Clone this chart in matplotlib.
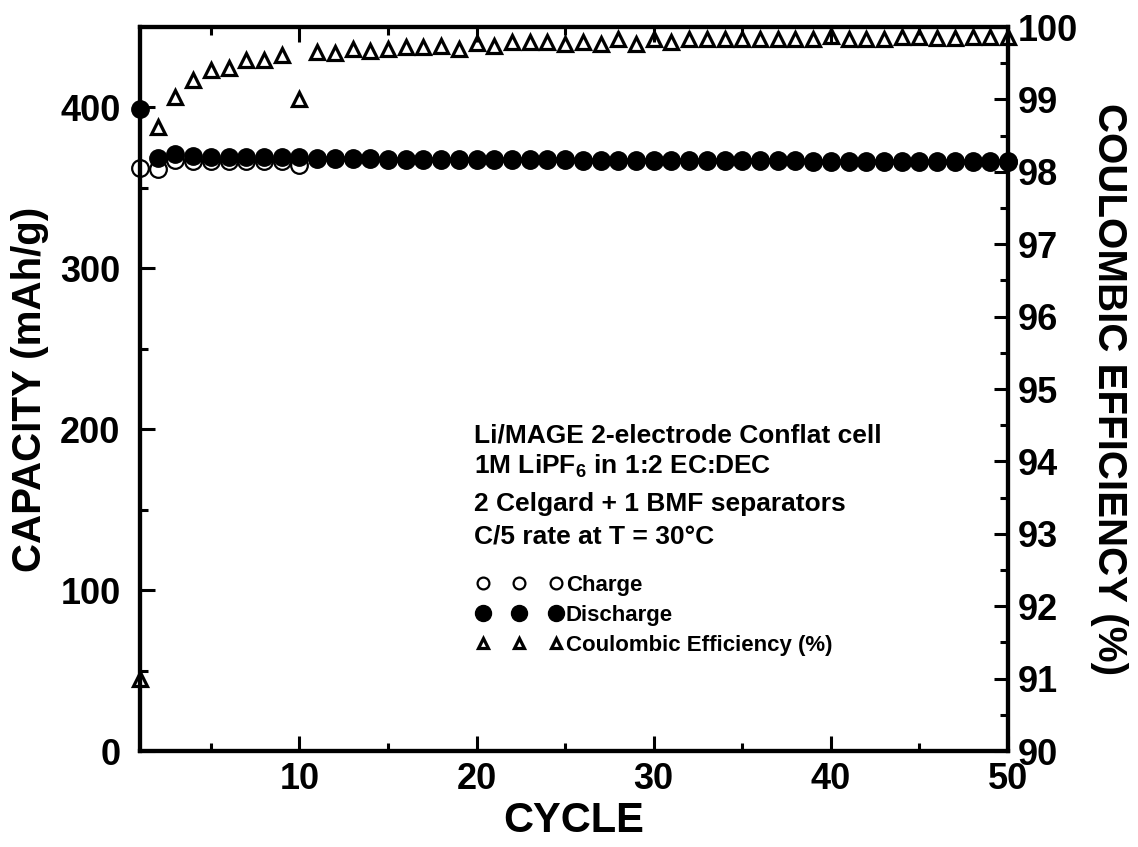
import matplotlib
matplotlib.use("Agg")
import matplotlib.pyplot as plt
from matplotlib.legend_handler import HandlerLine2D

plt.rcParams['font.family'] = ['Liberation Sans', 'DejaVu Sans']
plt.rcParams['font.weight'] = 'bold'
plt.rcParams['mathtext.default'] = 'regular'

cycles = list(range(1, 51))

discharge = [399, 368.5, 371, 370, 369.5, 369.5, 369.5, 369.5, 369, 369,
             368.5, 368.5, 368.3, 368.3, 368.2, 368.2, 368, 368, 368, 368,
             367.8, 367.8, 367.8, 367.7, 367.7, 367.6, 367.6, 367.5, 367.5, 367.5,
             367.4, 367.4, 367.3, 367.3, 367.2, 367.2, 367.1, 367.1, 367, 367,
             367, 366.9, 366.9, 366.8, 366.8, 366.7, 366.7, 366.6, 366.6, 366.5]

charge = [362.5, 362, 367.5, 367, 367, 367, 367, 367, 367, 364,
          367.9, 367.9, 367.7, 367.7, 367.6, 367.6, 367.4, 367.4, 367.4, 367.4,
          367.2, 367.2, 367.2, 367.1, 367.1, 367, 367, 366.9, 366.9, 366.9,
          366.8, 366.8, 366.7, 366.7, 366.6, 366.6, 366.5, 366.5, 366.4, 366.4,
          366.4, 366.3, 366.3, 366.2, 366.2, 366.1, 366.1, 366.0, 366.0, 365.9]

ce = [91.0, 98.62, 99.03, 99.27, 99.40, 99.44, 99.54, 99.54, 99.61, 99.00,
      99.66, 99.64, 99.69, 99.67, 99.69, 99.73, 99.72, 99.74, 99.69, 99.78,
      99.74, 99.79, 99.79, 99.79, 99.77, 99.79, 99.77, 99.83, 99.77, 99.84,
      99.79, 99.83, 99.83, 99.83, 99.84, 99.84, 99.83, 99.84, 99.84, 99.87,
      99.84, 99.84, 99.84, 99.86, 99.86, 99.85, 99.85, 99.86, 99.86, 99.86]

info_lines = ["Li/MAGE 2-electrode Conflat cell",
              "1M LiPF$_6$ in 1:2 EC:DEC",
              "2 Celgard + 1 BMF separators",
              "C/5 rate at T = 30°C"]
labels = ["Charge", "Discharge", "Coulombic Efficiency (%)"]

W, H = 1138, 847
fig = plt.figure(figsize=(W / 100, H / 100), dpi=100)
L, R, T, B = 140, 1008, 27, 751
ax = fig.add_axes([L / W, 1 - B / H, (R - L) / W, (B - T) / H])
ax2 = ax.twinx()

lc, = ax.plot(cycles, charge, linestyle='none', marker='o', ms=12,
              mfc='none', mec='black', mew=1.6, zorder=3, clip_on=False)
ld, = ax.plot(cycles, discharge, linestyle='none', marker='o', ms=12.5,
              mfc='black', mec='black', mew=1.0, zorder=4, clip_on=False)
lt, = ax2.plot(cycles, ce, linestyle='none', marker='^', ms=9.5,
               mfc='none', mec='black', mew=2.3, clip_on=False)

ax.set_xlim(1, 50)
ax.set_ylim(0, 450)
ax2.set_ylim(90, 100)

ax.set_xticks([10, 20, 30, 40, 50])
ax.set_xticks([5, 15, 25, 35, 45], minor=True)
ax.set_yticks([0, 100, 200, 300, 400])
ax.set_yticks([50, 150, 250, 350], minor=True)
ax2.set_yticks(list(range(90, 101)))
ax2.set_yticks([90.5 + i for i in range(10)], minor=True)

for a in (ax, ax2):
    for s in a.spines.values():
        s.set_linewidth(3)

ax.tick_params(axis='both', which='both', direction='in', width=2.2,
               labelsize=26, top=True, right=False)
ax.tick_params(axis='both', which='major', length=11)
ax.tick_params(axis='both', which='minor', length=6)
ax.tick_params(axis='y', pad=14)
ax.tick_params(axis='x', pad=8)
ax2.tick_params(axis='y', which='both', direction='in', width=2.2,
                labelsize=26, pad=7)
ax2.tick_params(axis='y', which='major', length=10)
ax2.tick_params(axis='y', which='minor', length=6)

for lab in ax.get_xticklabels() + ax.get_yticklabels() + ax2.get_yticklabels():
    lab.set_fontweight('bold')

ax.set_xlabel("CYCLE", fontsize=30, fontweight='bold', labelpad=3)
ax.set_ylabel("CAPACITY (mAh/g)", fontsize=29, fontweight='bold', labelpad=8)
ax2.set_ylabel("COULOMBIC EFFICIENCY (%)", fontsize=29, fontweight='bold',
               rotation=-90, labelpad=36)

ys = [435, 466, 504, 537]
for txt, y in zip(info_lines, ys):
    ax.text((474 - L) / (R - L), (B - y) / (B - T), txt, transform=ax.transAxes,
            fontsize=19, fontweight='bold', ha='left', va='center')


def resize(size):
    def f(handle, orig):
        handle.update_from(orig)
        handle.set_markersize(size)
    return f


leg = ax2.legend([lc, ld, lt], labels, loc='upper left',
                 bbox_to_anchor=((476 - L) / (R - L), (B - 575) / (B - T)),
                 frameon=False, numpoints=3, handlelength=3.9,
                 handletextpad=0.15, labelspacing=0.4, borderpad=0,
                 borderaxespad=0, prop={'size': 16, 'weight': 'bold'},
                 handler_map={lc: HandlerLine2D(update_func=resize(8.5)),
                              ld: HandlerLine2D(update_func=resize(11.5)),
                              lt: HandlerLine2D(update_func=resize(7))})

fig.savefig("out.png", dpi=100)
